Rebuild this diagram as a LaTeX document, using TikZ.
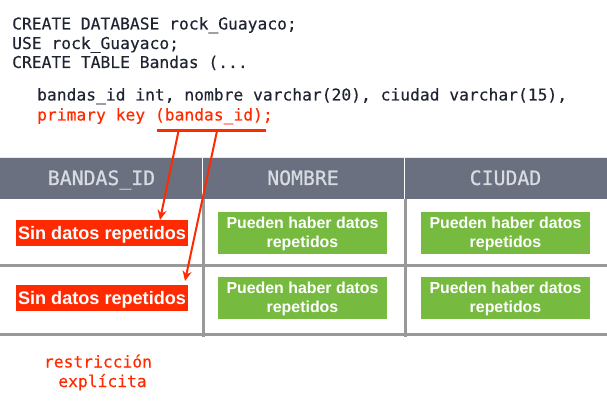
\documentclass[tikz,border=0pt]{standalone}
\usepackage{fontspec}
\setmainfont{Liberation Sans}
\setmonofont[FakeBold=0.25]{DejaVu Sans Mono}
\newfontfamily\hdrfont[FakeBold=0.8]{DejaVu Sans Mono}
\usetikzlibrary{arrows.meta}
\definecolor{hdr}{HTML}{6A7080}
\definecolor{hdrtxt}{HTML}{D8DBE0}
\definecolor{grline}{HTML}{999999}
\definecolor{redc}{HTML}{FF2A00}
\definecolor{greenc}{HTML}{76BB40}
\definecolor{codec}{HTML}{1F2433}
\newcommand{\pushdown}{\rule{0pt}{14pt}}
\tikzset{
  code/.style={anchor=base west,inner sep=0pt,text=codec,font=\ttfamily\fontsize{16.3}{19}\selectfont},
  codered/.style={code,text=redc},
  hdrlabel/.style={anchor=base,inner sep=0pt,text=hdrtxt,font=\hdrfont\fontsize{19.8}{22}\selectfont},
  redbox/.style={fill=redc,text=white,inner sep=0pt,minimum width=172pt,minimum height=26pt,text height=16pt,text depth=2pt,font=\bfseries\fontsize{18.1}{20}\selectfont},
  greenbox/.style={fill=greenc,text=white,inner sep=0pt,minimum width=169pt,minimum height=42pt,align=center,font=\bfseries\fontsize{15.9}{19}\selectfont},
  gridline/.style={draw=grline,line width=3pt},
  redarrow/.style={draw=redc,line width=2pt,-{Stealth[length=10pt,width=9pt]}},
}
\begin{document}
\begin{tikzpicture}[x=1pt,y=-1pt]
\useasboundingbox (0,0) rectangle (607,411);
% table
\fill[hdr] (0,158) rectangle (607,199);
\draw[hdrtxt!60!white,line width=0.8pt] (0,157.5) -- (607,157.5);
\draw[white,line width=1pt] (202.5,158) -- (202.5,199);
\draw[white,line width=1pt] (404.5,158) -- (404.5,199);
\draw[gridline] (0,266) -- (607,266);
\draw[gridline] (0,334) -- (607,334);
\draw[gridline] (203,199) -- (203,336.5);
\draw[gridline] (405,199) -- (405,336.5);
\node[hdrlabel] (h1) at (101.5,185) {BANDAS\_ID};
\node[hdrlabel] (h2) at (303,185) {NOMBRE};
\node[hdrlabel] (h3) at (505.5,185) {CIUDAD};
\node[redbox] (r1) at (102,233) {Sin datos repetidos};
\node[redbox] (r2) at (102,298) {Sin datos repetidos};
\node[greenbox] (g1) at (302.5,233) {\pushdown Pueden haber datos\\repetidos};
\node[greenbox] (g2) at (505.5,233) {\pushdown Pueden haber datos\\repetidos};
\node[greenbox] (g3) at (302.5,298) {\pushdown Pueden haber datos\\repetidos};
\node[greenbox] (g4) at (505.5,298) {\pushdown Pueden haber datos\\repetidos};
% code
\node[code] (c1) at (12,29.5) {CREATE DATABASE rock\_Guayaco;};
\node[code] (c2) at (12,49) {USE rock\_Guayaco;};
\node[code] (c3) at (12,68) {CREATE TABLE Bandas (...};
\node[code] (c4) at (37,100.5) {bandas\_id int, nombre varchar(20), ciudad varchar(15),};
\node[codered] (c5) at (37,120.5) {primary key (bandas\_id);};
% connectors
\coordinate (ua) at (157,131);
\coordinate (ub) at (266,131);
\coordinate (s1) at (178.5,131);
\coordinate (s2) at (217,131);
\coordinate (t1) at (160,220);
\coordinate (t2) at (185,281);
\draw[draw=redc,line width=3pt] (ua) -- (ub);
\draw[redarrow] (s1) -- (t1);
\draw[redarrow] (s2) -- (t2);
% note
\node[codered,anchor=base] (n1) at (98,367.5) {restricción};
\node[codered,anchor=base] (n2) at (102.5,387) {explícita};
\end{tikzpicture}
\end{document}
